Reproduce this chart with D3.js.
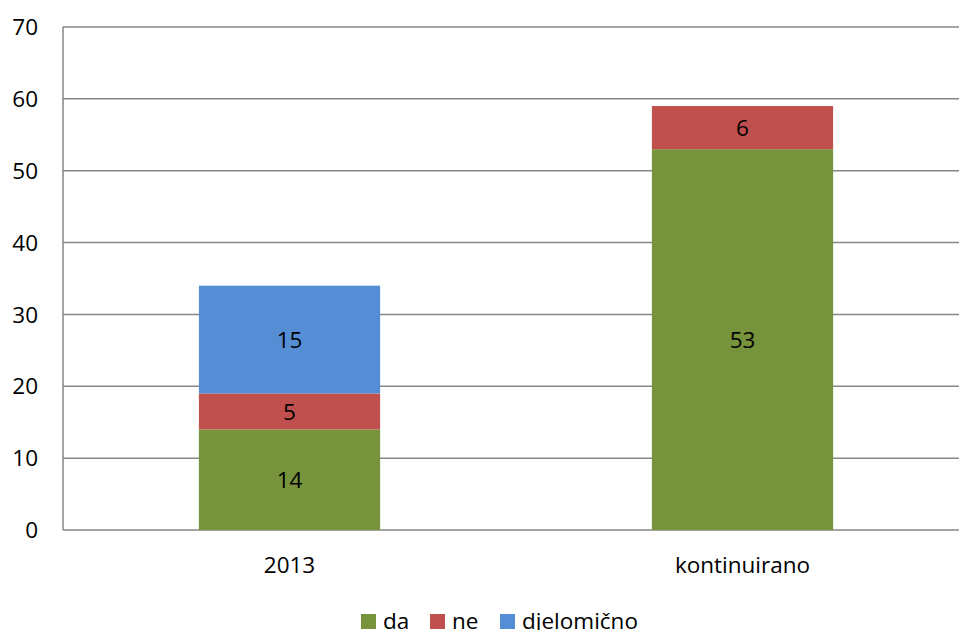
<!DOCTYPE html>
<html>
<head>
<meta charset="utf-8">
<script src="https://cdn.jsdelivr.net/npm/d3@7"></script>
<style>
  body { margin: 0; background: #fff; }
  svg text { font-family: "Open Sans", Lato, sans-serif; fill: #000; }
</style>
</head>
<body>
<div id="chart"></div>
<script>
// chart data
var categories = ["2013", "kontinuirano"];
var seriesNames = ["da", "ne", "djelomično"];
var daValues = [14, 53];
var neValues = [5, 6];
var djelomicnoValues = [15, 0];
var yTicks = [0, 10, 20, 30, 40, 50, 60, 70];
var colors = ["#77933C", "#C0504D", "#558ED5"];

var width = 959, height = 630;
var margin = {top: 27, right: -10, bottom: 100, left: 63};
var fontSize = 22.5;

var svg = d3.select("#chart")
  .append("svg")
    .attr("width", width)
    .attr("height", height);

// scales
var x = d3.scaleBand()
  .domain(categories)
  .range([margin.left, width - margin.right])
  .paddingInner(0.6)
  .paddingOuter(0.3);

var y = d3.scaleLinear()
  .domain([0, 70])
  .range([height - margin.bottom, margin.top]);

// gridlines
svg.append("g")
  .selectAll("line")
  .data(yTicks)
  .join("line")
    .attr("x1", margin.left)
    .attr("x2", width)
    .attr("y1", function(d) { return y(d); })
    .attr("y2", function(d) { return y(d); })
    .attr("stroke", "#868686")
    .attr("stroke-width", 1.5);

// y axis line
svg.append("line")
  .attr("x1", margin.left).attr("x2", margin.left)
  .attr("y1", y(70)).attr("y2", y(0))
  .attr("stroke", "#868686")
  .attr("stroke-width", 1.5);

// y tick labels
svg.append("g")
  .selectAll("text")
  .data(yTicks)
  .join("text")
    .attr("x", 38)
    .attr("y", function(d) { return y(d); })
    .attr("dy", "0.36em")
    .attr("text-anchor", "end")
    .attr("font-size", fontSize)
    .text(function(d) { return d; });

// x labels
svg.append("g")
  .selectAll("text")
  .data(categories)
  .join("text")
    .attr("x", function(d) { return x(d) + x.bandwidth() / 2; })
    .attr("y", 573)
    .attr("text-anchor", "middle")
    .attr("font-size", fontSize)
    .text(function(d) { return d; });

// stacked data
var rows = categories.map(function(c, i) {
  return {cat: c, "da": daValues[i], "ne": neValues[i], "djelomično": djelomicnoValues[i]};
});
var stacked = d3.stack().keys(seriesNames)(rows);

var layers = svg.append("g")
  .selectAll("g")
  .data(stacked)
  .join("g")
    .attr("fill", function(d, i) { return colors[i]; });

layers.selectAll("rect")
  .data(function(d) { return d.filter(function(p) { return p[1] > p[0]; }); })
  .join("rect")
    .attr("x", function(d) { return x(d.data.cat); })
    .attr("y", function(d) { return y(d[1]); })
    .attr("width", x.bandwidth())
    .attr("height", function(d) { return y(d[0]) - y(d[1]); });

// value labels
layers.selectAll("text")
  .data(function(d) { return d.filter(function(p) { return p[1] > p[0]; }); })
  .join("text")
    .attr("x", function(d) { return x(d.data.cat) + x.bandwidth() / 2; })
    .attr("y", function(d) { return y((d[0] + d[1]) / 2); })
    .attr("dy", "0.36em")
    .attr("text-anchor", "middle")
    .attr("font-size", fontSize)
    .style("fill", "#000")
    .text(function(d) { return d[1] - d[0]; });

// legend
var legendX = [361, 430, 500];
var legend = svg.append("g")
  .selectAll("g")
  .data(seriesNames)
  .join("g")
    .attr("transform", function(d, i) { return "translate(" + legendX[i] + ",614)"; });

legend.append("rect")
  .attr("width", 15)
  .attr("height", 15)
  .attr("fill", function(d, i) { return colors[i]; });

legend.append("text")
  .attr("x", 22)
  .attr("y", 15)
  .attr("font-size", fontSize)
  .text(function(d) { return d; });
</script>
</body>
</html>
